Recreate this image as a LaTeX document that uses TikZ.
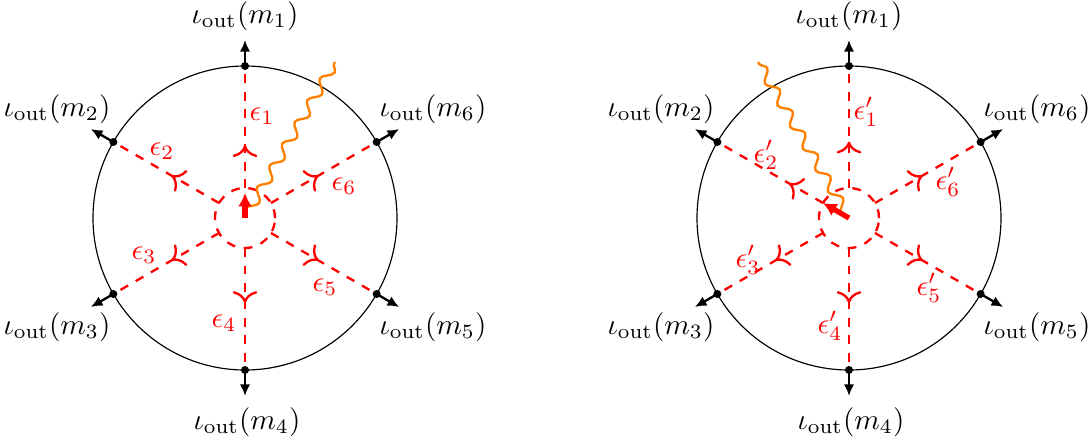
\documentclass[tikz,border=0pt]{standalone}
\usetikzlibrary{arrows.meta,decorations.markings,decorations.pathmorphing,calc}
\begin{document}
\begin{tikzpicture}[x=0.343pt,y=0.343pt,
  rim/.style={line width=0.4pt},
  innerloop/.style={red,dashed,thick},
  spoke/.style={red,dashed,thick,postaction={decorate},
    decoration={markings,mark=at position #1 with {\arrow[solid]{To[scale=1.2]}}}},
  outarrow/.style={thick,-{Latex[length=4pt,width=3.6pt]}},
  vertexdot/.style={fill=black},
  photon/.style={orange,thick,decorate,decoration={snake,amplitude=1.7pt,segment length=8.6pt}},
  spin/.style={red,line width=1.8pt,-{Latex[length=4.6pt,width=4.8pt]}},
  elabel/.style={text=red,inner sep=0pt},
  olabel/.style={inner sep=0pt}
]
\useasboundingbox (0,0) rectangle (1091,439);

% centres
\coordinate (CL) at (245,221);
\coordinate (CR) at (849,221);

\foreach \s in {L,R}{
  \draw[rim] (C\s) circle[radius=152];
  \draw[innerloop] (C\s) circle[radius=30];
  \foreach \k/\a in {1/90,2/150,3/210,4/270,5/330,6/30}{
    \coordinate (I\s\k) at ($(C\s)+(\a:30)$);
    \coordinate (P\s\k) at ($(C\s)+(\a:152)$);
    \coordinate (A\s\k) at ($(C\s)+(\a:178)$);
  }
}

% spokes with mid arrows
\foreach \s/\k/\p in {L/1/0.35,L/2/0.45,L/3/0.45,L/4/0.45,L/5/0.45,L/6/0.45,
                      R/1/0.38,R/2/0.32,R/3/0.45,R/4/0.45,R/5/0.45,R/6/0.45}{
  \draw[spoke=\p] (I\s\k) -- (P\s\k);
  \draw[outarrow] (P\s\k) -- (A\s\k);
  \fill[vertexdot] (P\s\k) circle[radius=4];
}

% photons and spins
\coordinate (WL) at (335,377);
\coordinate (WR) at (758,377);
\coordinate (SL) at ($(CL)+(90:25)$);
\coordinate (SR) at ($(CR)+(150:30)$);
\draw[photon] (CL) -- (WL);
\draw[photon] (CR) -- (WR);
\draw[spin] (CL) -- (SL);
\draw[spin] (CR) -- (SR);

% outer labels
\foreach \s/\dx in {L/0,R/604}{
  \node[olabel] (O\s1) at (245+\dx,423) {$\iota_{\mathrm{out}}(m_1)$};
  \node[olabel] (O\s2) at (57+\dx,330) {$\iota_{\mathrm{out}}(m_2)$};
  \node[olabel] (O\s3) at (57+\dx,112) {$\iota_{\mathrm{out}}(m_3)$};
  \node[olabel] (O\s4) at (247+\dx,17) {$\iota_{\mathrm{out}}(m_4)$};
  \node[olabel] (O\s5) at (433+\dx,112) {$\iota_{\mathrm{out}}(m_5)$};
  \node[olabel] (O\s6) at (433+\dx,330) {$\iota_{\mathrm{out}}(m_6)$};
}

% edge labels, left
\node[elabel] (EL1) at (262,323) {$\epsilon_1$};
\node[elabel] (EL2) at (162,288) {$\epsilon_2$};
\node[elabel] (EL3) at (144,184) {$\epsilon_3$};
\node[elabel] (EL4) at (224,116) {$\epsilon_4$};
\node[elabel] (EL5) at (325,152) {$\epsilon_5$};
\node[elabel] (EL6) at (344,253) {$\epsilon_6$};
% edge labels, right
\node[elabel] (ER1) at (866,327) {$\epsilon'_1$};
\node[elabel] (ER2) at (766,284) {$\epsilon'_2$};
\node[elabel] (ER3) at (748,179) {$\epsilon'_3$};
\node[elabel] (ER4) at (830,113) {$\epsilon'_4$};
\node[elabel] (ER5) at (929,151) {$\epsilon'_5$};
\node[elabel] (ER6) at (948,257) {$\epsilon'_6$};
\end{tikzpicture}
\end{document}
